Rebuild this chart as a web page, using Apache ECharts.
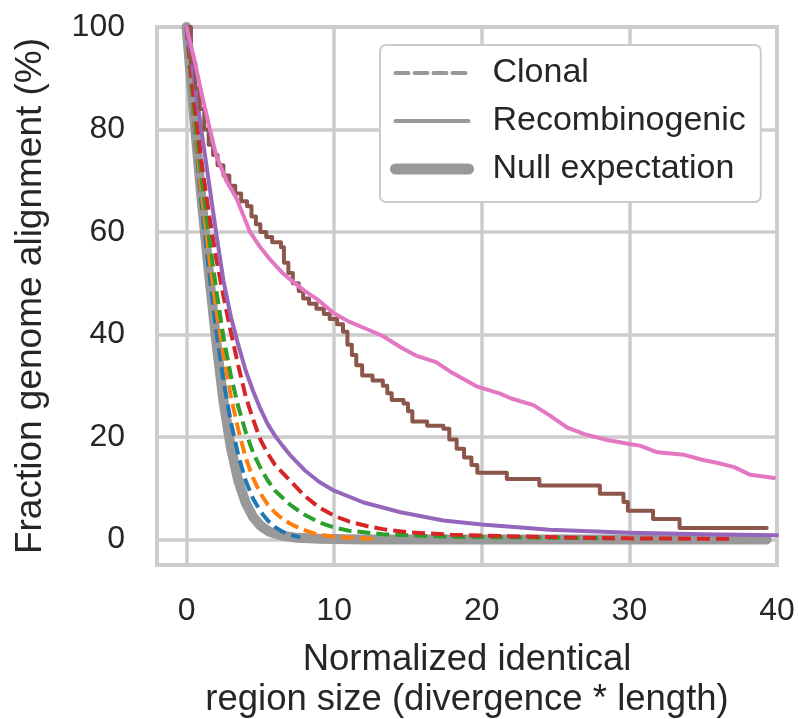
<!DOCTYPE html>
<html>
<head>
<meta charset="utf-8">
<script src="https://cdn.jsdelivr.net/npm/echarts@6/dist/echarts.min.js"></script>
<style>
  html, body { margin: 0; padding: 0; background: #fff; }
  #chart { width: 798px; height: 719px; }
</style>
</head>
<body>
<div id="chart"></div>
<script>
// 数据：[x, y]，x = 归一化相同区域长度，y = 比例 (%)

const xTicks = [0, 10, 20, 30, 40];
const yTicks = [0, 20, 40, 60, 80, 100];

// 零假设
const nullExpectation = [
    [0, 100], [0.5, 83], [1.0, 67], [1.5, 52.5], [2.0, 39], [2.5, 27], [3.0, 18],
    [3.5, 11.5], [4.0, 7.2], [4.5, 4.4], [5.0, 2.7], [5.6, 1.5], [6.5, 0.7],
    [7.5, 0.3], [9.0, 0.1], [12, 0], [39.3, 0]
];

// 克隆型（虚线）
const clonalBlue = [
    [0, 100], [0.5, 82], [1.0, 66], [1.5, 53], [2.0, 41], [2.5, 31], [3.0, 23],
    [3.5, 16.5], [4.0, 11.5], [4.5, 8], [5.0, 5.5], [5.5, 3.7], [6.0, 2.4],
    [6.5, 1.5], [7.0, 0.9], [7.7, 0.4]
];
const clonalOrange = [
    [0, 100], [0.5, 83], [1.0, 68], [1.5, 56], [2.0, 45], [2.5, 36], [3.0, 28],
    [3.5, 21.5], [4.0, 16], [4.5, 12], [5.0, 9], [5.5, 6.8], [6.0, 5.2], [6.5, 4.0],
    [7.0, 3.1], [7.7, 2.1], [8.8, 1.0], [10, 0.5], [12.6, 0.1]
];
const clonalGreen = [
    [0, 100], [0.5, 84], [1.0, 71], [1.5, 59.5], [2.0, 49], [2.5, 39.5], [3.0, 32],
    [3.5, 26], [4.0, 21], [4.5, 17], [5.0, 14], [5.5, 11.5], [6.0, 9.5], [7.0, 6.8],
    [8.0, 4.8], [9.0, 3.3], [10, 2.3], [11, 1.7], [13.3, 1.0], [18, 0.5], [29, 0.2]
];
const clonalRed = [
    [0, 100], [0.5, 86], [1.0, 74], [1.5, 64], [2.0, 55], [2.5, 47.5], [3.0, 40.5],
    [3.5, 34], [4.0, 28], [4.5, 23.5], [5.0, 19.5], [5.5, 16.8], [6.0, 14.5],
    [7.0, 11.5], [8.0, 8.5], [9.0, 6.2], [10, 4.6], [11, 3.5], [12.2, 2.6],
    [13.3, 2.0], [15, 1.4], [18, 0.9], [25, 0.4], [30, 0.2], [36.8, 0.1]
];

// 重组型（实线）
const recombPurple = [
    [0, 100], [0.5, 90], [1.0, 80], [1.5, 70], [2.0, 60], [2.5, 50.5], [3.0, 43.5],
    [3.5, 38], [4.0, 33], [4.5, 29], [5.0, 25.5], [5.5, 22.5], [6.0, 20.2],
    [6.5, 18.3], [7.0, 16.5], [8.0, 13.5], [9.0, 11.2], [10, 9.5], [12, 7.2],
    [14.5, 5.3], [17.4, 3.7], [20, 2.9], [24.6, 1.9], [30, 1.3], [35, 1.0], [40, 0.8]
];
const recombBrown = [
    [0, 100], [0.3, 93], [0.6, 88], [0.9, 84], [1.2, 80], [1.5, 77], [1.8, 75],
    [2.1, 73], [2.5, 71], [2.9, 69], [3.3, 67.5], [3.7, 66], [4.1, 65], [4.4, 63],
    [4.7, 61.5], [5.0, 60], [5.4, 59], [5.8, 58], [6.4, 57], [6.6, 54], [6.9, 52],
    [7.2, 50], [7.6, 48.5], [7.9, 47], [8.3, 46], [8.8, 45], [9.3, 44], [9.7, 43],
    [10.2, 42], [10.6, 40.5], [10.9, 38], [11.2, 36], [11.5, 34], [11.9, 32],
    [12.6, 31], [13.3, 30], [13.6, 28.5], [13.9, 27.2], [14.7, 26.5], [15.0, 25],
    [15.3, 23], [16.3, 22.2], [17.4, 21.6], [17.8, 19.5], [18.3, 17.7], [18.8, 16],
    [19.3, 14.5], [19.7, 13], [21.7, 11.8], [23.9, 10.5], [28.0, 8.9], [29.6, 7.3],
    [29.9, 5.6], [31.6, 4.0], [33.4, 2.2], [39.3, 2.2]
];
const recombPink = [
    [0, 100], [0.5, 94], [1.1, 86], [2.0, 75], [2.7, 70], [3.4, 66.5], [4.3, 60],
    [5.0, 57], [5.7, 54.5], [6.5, 52], [7.0, 50.8], [8.0, 48.5], [8.8, 47],
    [9.9, 44.3], [11, 42.5], [12, 41.3], [13.3, 39.7], [14.5, 37.5], [15.6, 35.8],
    [16.9, 34.6], [18, 32.5], [19.7, 29.8], [21.2, 28.5], [22, 27.5], [23.5, 26.2],
    [24.6, 24.2], [25.8, 21.8], [27, 20.5], [28.5, 19.4], [30, 18.6], [30.7, 18.3],
    [31.9, 17.0], [33.7, 16.5], [35, 15.5], [36, 14.9], [37.1, 14.1], [38.2, 12.6],
    [39.8, 12.0]
];

// 样式常量
const TEXT_COLOR = '#262626';
const GRID_COLOR = '#cccccc';
const LEGEND_GREY = '#999999';
const FONT = 'Liberation Sans, Arial, sans-serif';
const DASH = [13, 6];

function dashed(name, color, data) {
    return {
        name: name,
        type: 'line',
        data: data,
        symbol: 'none',
        clip: false,
        lineStyle: { color: color, width: 4, type: DASH }
    };
}

function solid(name, color, data, step) {
    return {
        name: name,
        type: 'line',
        data: data,
        symbol: 'none',
        step: step || false,
        clip: false,
        lineStyle: { color: color, width: 4, cap: 'round', join: 'round' }
    };
}

// 图例条目（灰色样例线，不画符号）
function legendItem(name, width, type) {
    return {
        name: name,
        itemStyle: { opacity: 0 },
        lineStyle: { color: LEGEND_GREY, width: width, type: type, cap: 'round' }
    };
}

let chart = echarts.init(document.getElementById('chart'), null, { renderer: 'canvas' });

let option = {
    animation: false,
    textStyle: { fontFamily: FONT },
    grid: {
        left: 157, right: 21, top: 27, bottom: 154,
        outerBoundsMode: 'none',
        containLabel: false,
        show: true,
        borderColor: GRID_COLOR,
        borderWidth: 4
    },
    legend: {
        data: [
            legendItem('Clonal', 4, DASH),
            legendItem('Recombinogenic', 4, 'solid'),
            legendItem('Null expectation', 11, 'solid')
        ],
        orient: 'vertical',
        left: 380,
        top: 45,
        padding: [8, 15, 13, 10],
        itemWidth: 73,
        itemHeight: 14,
        itemGap: 8,
        backgroundColor: '#ffffff',
        borderColor: GRID_COLOR,
        borderWidth: 2,
        borderRadius: 6,
        textStyle: {
            color: TEXT_COLOR,
            fontSize: 34,
            fontFamily: FONT,
            lineHeight: 40,
            padding: [0, 0, 0, 19]
        }
    },
    xAxis: {
        type: 'value',
        min: -2,
        max: 40,
        name: 'Normalized identical\nregion size (divergence * length)',
        nameLocation: 'middle',
        nameGap: 75,
        nameTextStyle: { color: TEXT_COLOR, fontSize: 36.5, lineHeight: 40, fontFamily: FONT },
        axisLine: { show: false },
        axisTick: { show: false, customValues: xTicks },
        axisLabel: { customValues: xTicks, color: TEXT_COLOR, fontSize: 32, margin: 30, fontFamily: FONT },
        splitLine: { show: true, lineStyle: { color: GRID_COLOR, width: 3.5 } }
    },
    yAxis: {
        type: 'value',
        min: -5,
        max: 100,
        name: 'Fraction genome alignment (%)',
        nameLocation: 'middle',
        nameGap: 108,
        nameTextStyle: { color: TEXT_COLOR, fontSize: 37, fontFamily: FONT },
        axisLine: { show: false },
        axisTick: { show: false, customValues: yTicks },
        axisLabel: { customValues: yTicks, color: TEXT_COLOR, fontSize: 32, margin: 32, fontFamily: FONT },
        splitLine: { show: true, lineStyle: { color: GRID_COLOR, width: 3.5 } }
    },
    series: [
        // 图例用的灰色样例线
        dashed('Clonal', LEGEND_GREY, []),
        solid('Recombinogenic', LEGEND_GREY, []),
        {
            name: 'Null expectation',
            type: 'line',
            data: nullExpectation,
            symbol: 'none',
            clip: false,
            lineStyle: { color: LEGEND_GREY, width: 10, cap: 'round', join: 'round' }
        },
        dashed('clonal-blue', '#1f77b4', clonalBlue),
        dashed('clonal-orange', '#ff7f0e', clonalOrange),
        dashed('clonal-green', '#2ca02c', clonalGreen),
        dashed('clonal-red', '#d62728', clonalRed),
        solid('recomb-purple', '#9467bd', recombPurple),
        solid('recomb-brown', '#8c564b', recombBrown, 'end'),
        solid('recomb-pink', '#e377c2', recombPink)
    ]
};

chart.setOption(option);
</script>
</body>
</html>
